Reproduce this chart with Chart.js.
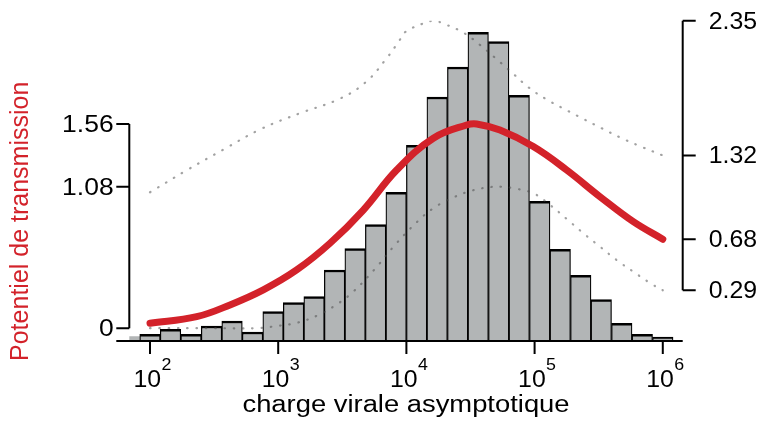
<!DOCTYPE html>
<html>
<head>
<meta charset="utf-8">
<title>Potentiel de transmission</title>
<script src="https://cdn.jsdelivr.net/npm/chart.js@4.4.0/dist/chart.umd.min.js"></script>
<style>
  body { margin: 0; background: #fff; }
</style>
</head>
<body>
<canvas id="graphe" width="764" height="427"></canvas>
<script>
// histogramme : centres des classes (log10 de la charge virale) et hauteurs
var classes = [2.00, 2.16, 2.32, 2.48, 2.64, 2.80, 2.96, 3.12, 3.28, 3.44, 3.60, 3.76, 3.92,
               4.08, 4.24, 4.40, 4.56, 4.72, 4.88, 5.04, 5.20, 5.36, 5.52, 5.68, 5.84, 6.00];
var effectifs = [6.7, 11.7, 6.7, 15, 20, 9, 29.3, 38.5, 44.3, 71, 92.3, 116.3, 148.7,
                 195.7, 244, 274, 308.7, 299.3, 245.7, 139.7, 91.7, 65.7, 41.3, 17.7, 6.7, 4];
// classe coupée a gauche (sans contour)
var classeCoupee = [1.84];
var effectifCoupe = [4.3];

// potentiel de transmission (courbe rouge)
var potX = [2.0, 2.364, 2.624, 2.884, 3.144, 3.404, 3.664, 3.924, 4.21, 4.47, 4.548, 4.73,
            4.99, 5.25, 5.51, 5.77, 6.0];
var potY = [0.037, 0.088, 0.178, 0.293, 0.445, 0.649, 0.903, 1.209, 1.452, 1.553, 1.561, 1.514,
            1.388, 1.209, 1.005, 0.814, 0.68];

// bornes (pointillés)
var hautX = [2.0, 2.286, 2.572, 2.863, 3.17, 3.477, 3.685, 3.846, 3.945, 3.989, 4.137, 4.215,
             4.293, 4.444, 4.574, 4.704, 4.824, 4.951, 5.087, 5.23, 5.375, 5.523, 5.671, 5.822, 6.0];
var hautY = [1.039, 1.207, 1.365, 1.521, 1.643, 1.752, 1.882, 2.063, 2.198, 2.262, 2.331, 2.349,
             2.326, 2.259, 2.165, 2.056, 1.953, 1.842, 1.752, 1.676, 1.602, 1.528, 1.456, 1.391, 1.32];
var basX = [2.0, 2.5, 2.83, 2.99, 3.15, 3.31, 3.45, 3.58, 3.755, 3.911, 4.085, 4.21, 4.353,
            4.509, 4.67, 4.751, 4.834, 4.99, 5.12, 5.25, 5.38, 5.51, 5.64, 5.77, 5.912, 6.0];
var basY = [0.0, 0.0, 0.0, 0.017, 0.042, 0.099, 0.177, 0.274, 0.453, 0.636, 0.814, 0.917, 0.993,
            1.051, 1.08, 1.08, 1.07, 1.031, 0.942, 0.835, 0.726, 0.623, 0.521, 0.432, 0.338, 0.29];

var ticksX = [2, 3, 4, 5, 6];
var ticksGauche = [0, 1.08, 1.56];
var ticksDroite = [0.29, 0.68, 1.32, 2.35];
var labelsGauche = ["0", "1.08", "1.56"];
var labelsDroite = ["0.29", "0.68", "1.32", "2.35"];

var ROUGE = '#d3222a';
var POLICE = '"Liberation Sans", Arial, Helvetica, sans-serif';

function points(xs, ys) {
  return xs.map(function (x, i) { return {x: x, y: ys[i]}; });
}

function texte(ctx, str, x, y, size, align, sx) {
  ctx.save();
  ctx.font = size + 'px ' + POLICE;
  ctx.textBaseline = 'alphabetic';
  ctx.textAlign = align;
  ctx.translate(x, y);
  ctx.scale(sx, 1);
  ctx.fillText(str, 0, 0);
  ctx.restore();
}

// axes dessinés a la main (style R)
var axesR = {
  id: 'axesR',
  afterDatasetsDraw: function (chart) {
    var ctx = chart.ctx, xs = chart.scales.x, ys = chart.scales.y, area = chart.chartArea;
    var tick = 13;
    ctx.save();
    ctx.strokeStyle = '#000';
    ctx.fillStyle = '#000';
    ctx.lineWidth = 2;
    ctx.lineCap = 'butt';

    // axe x
    var yb = area.bottom;
    ctx.beginPath();
    ctx.moveTo(area.left - tick, yb);
    ctx.lineTo(area.right, yb);
    ticksX.forEach(function (t) {
      var px = xs.getPixelForValue(t);
      ctx.moveTo(px, yb);
      ctx.lineTo(px, yb + tick);
    });
    ctx.stroke();
    ticksX.forEach(function (t) {
      var px = xs.getPixelForValue(t);
      texte(ctx, '10', px - 16.5, yb + 45.7, 23, 'left', 1.08);
      texte(ctx, String(t), px + 11.5, yb + 29, 16.5, 'left', 1.08);
    });

    // axe gauche
    var xg = area.left;
    ctx.beginPath();
    ctx.moveTo(xg, ys.getPixelForValue(ticksGauche[0]));
    ctx.lineTo(xg, ys.getPixelForValue(ticksGauche[ticksGauche.length - 1]));
    ticksGauche.forEach(function (t) {
      var py = ys.getPixelForValue(t);
      ctx.moveTo(xg, py);
      ctx.lineTo(xg - tick, py);
    });
    ctx.stroke();
    ticksGauche.forEach(function (t, i) {
      texte(ctx, labelsGauche[i], xg - tick - 2.7, ys.getPixelForValue(t) + 8, 23, 'right', 1.15);
    });

    // axe droit
    var xd = area.right;
    ctx.beginPath();
    ctx.moveTo(xd, ys.getPixelForValue(ticksDroite[0]));
    ctx.lineTo(xd, ys.getPixelForValue(ticksDroite[ticksDroite.length - 1]));
    ticksDroite.forEach(function (t) {
      var py = ys.getPixelForValue(t);
      ctx.moveTo(xd, py);
      ctx.lineTo(xd + tick, py);
    });
    ctx.stroke();
    ticksDroite.forEach(function (t, i) {
      texte(ctx, labelsDroite[i], xd + 26, ys.getPixelForValue(t) + 8, 23, 'left', 1.08);
    });

    // titres
    texte(ctx, 'charge virale asymptotique', (area.left + area.right) / 2, 412.3, 23, 'center', 1.19);
    ctx.save();
    ctx.fillStyle = ROUGE;
    ctx.translate(28.3, 221.3);
    ctx.rotate(-Math.PI / 2);
    ctx.font = '25px ' + POLICE;
    ctx.textAlign = 'center';
    ctx.textBaseline = 'alphabetic';
    ctx.fillText('Potentiel de transmission', 0, 0);
    ctx.restore();

    ctx.restore();
  }
};

new Chart(document.getElementById('graphe'), {
  data: {
    datasets: [
      {
        type: 'line',
        data: points(potX, potY),
        yAxisID: 'y',
        borderColor: ROUGE,
        borderWidth: 7,
        borderCapStyle: 'round',
        tension: 0.4,
        pointRadius: 0,
        order: 0
      },
      {
        type: 'line',
        data: points(hautX, hautY),
        yAxisID: 'y',
        borderColor: 'rgba(70,70,70,0.5)',
        borderWidth: 2.2,
        borderDash: [0.5, 8.8],
        borderCapStyle: 'round',
        tension: 0.4,
        pointRadius: 0,
        order: 1
      },
      {
        type: 'line',
        data: points(basX, basY),
        yAxisID: 'y',
        borderColor: 'rgba(70,70,70,0.5)',
        borderWidth: 2.2,
        borderDash: [0.5, 8.8],
        borderCapStyle: 'round',
        tension: 0.4,
        pointRadius: 0,
        order: 1
      },
      {
        type: 'bar',
        data: points(classes, effectifs),
        yAxisID: 'yh',
        backgroundColor: '#b2b5b6',
        borderColor: '#000',
        borderWidth: {top: 2.5, left: 1.25, right: 1.25, bottom: 0},
        borderSkipped: false,
        barPercentage: 1,
        categoryPercentage: 1,
        grouped: false,
        clip: 0,
        order: 2
      },
      {
        type: 'bar',
        data: points(classeCoupee, effectifCoupe),
        yAxisID: 'yh',
        backgroundColor: '#b2b5b6',
        borderWidth: 0,
        barPercentage: 1,
        categoryPercentage: 1,
        grouped: false,
        clip: 0,
        order: 3
      }
    ]
  },
  options: {
    responsive: false,
    animation: false,
    devicePixelRatio: 1,
    layout: {padding: {left: 129.3, right: 81.3, top: 20.7, bottom: 86}},
    plugins: {legend: {display: false}, tooltip: {enabled: false}},
    scales: {
      x: {type: 'linear', min: 1.8385, max: 6.1553, offset: false, display: false},
      y: {type: 'linear', min: -0.098, max: 2.35, display: false},
      yh: {type: 'linear', min: 0, max: 320.3, display: false}
    }
  },
  plugins: [axesR]
});
</script>
</body>
</html>
